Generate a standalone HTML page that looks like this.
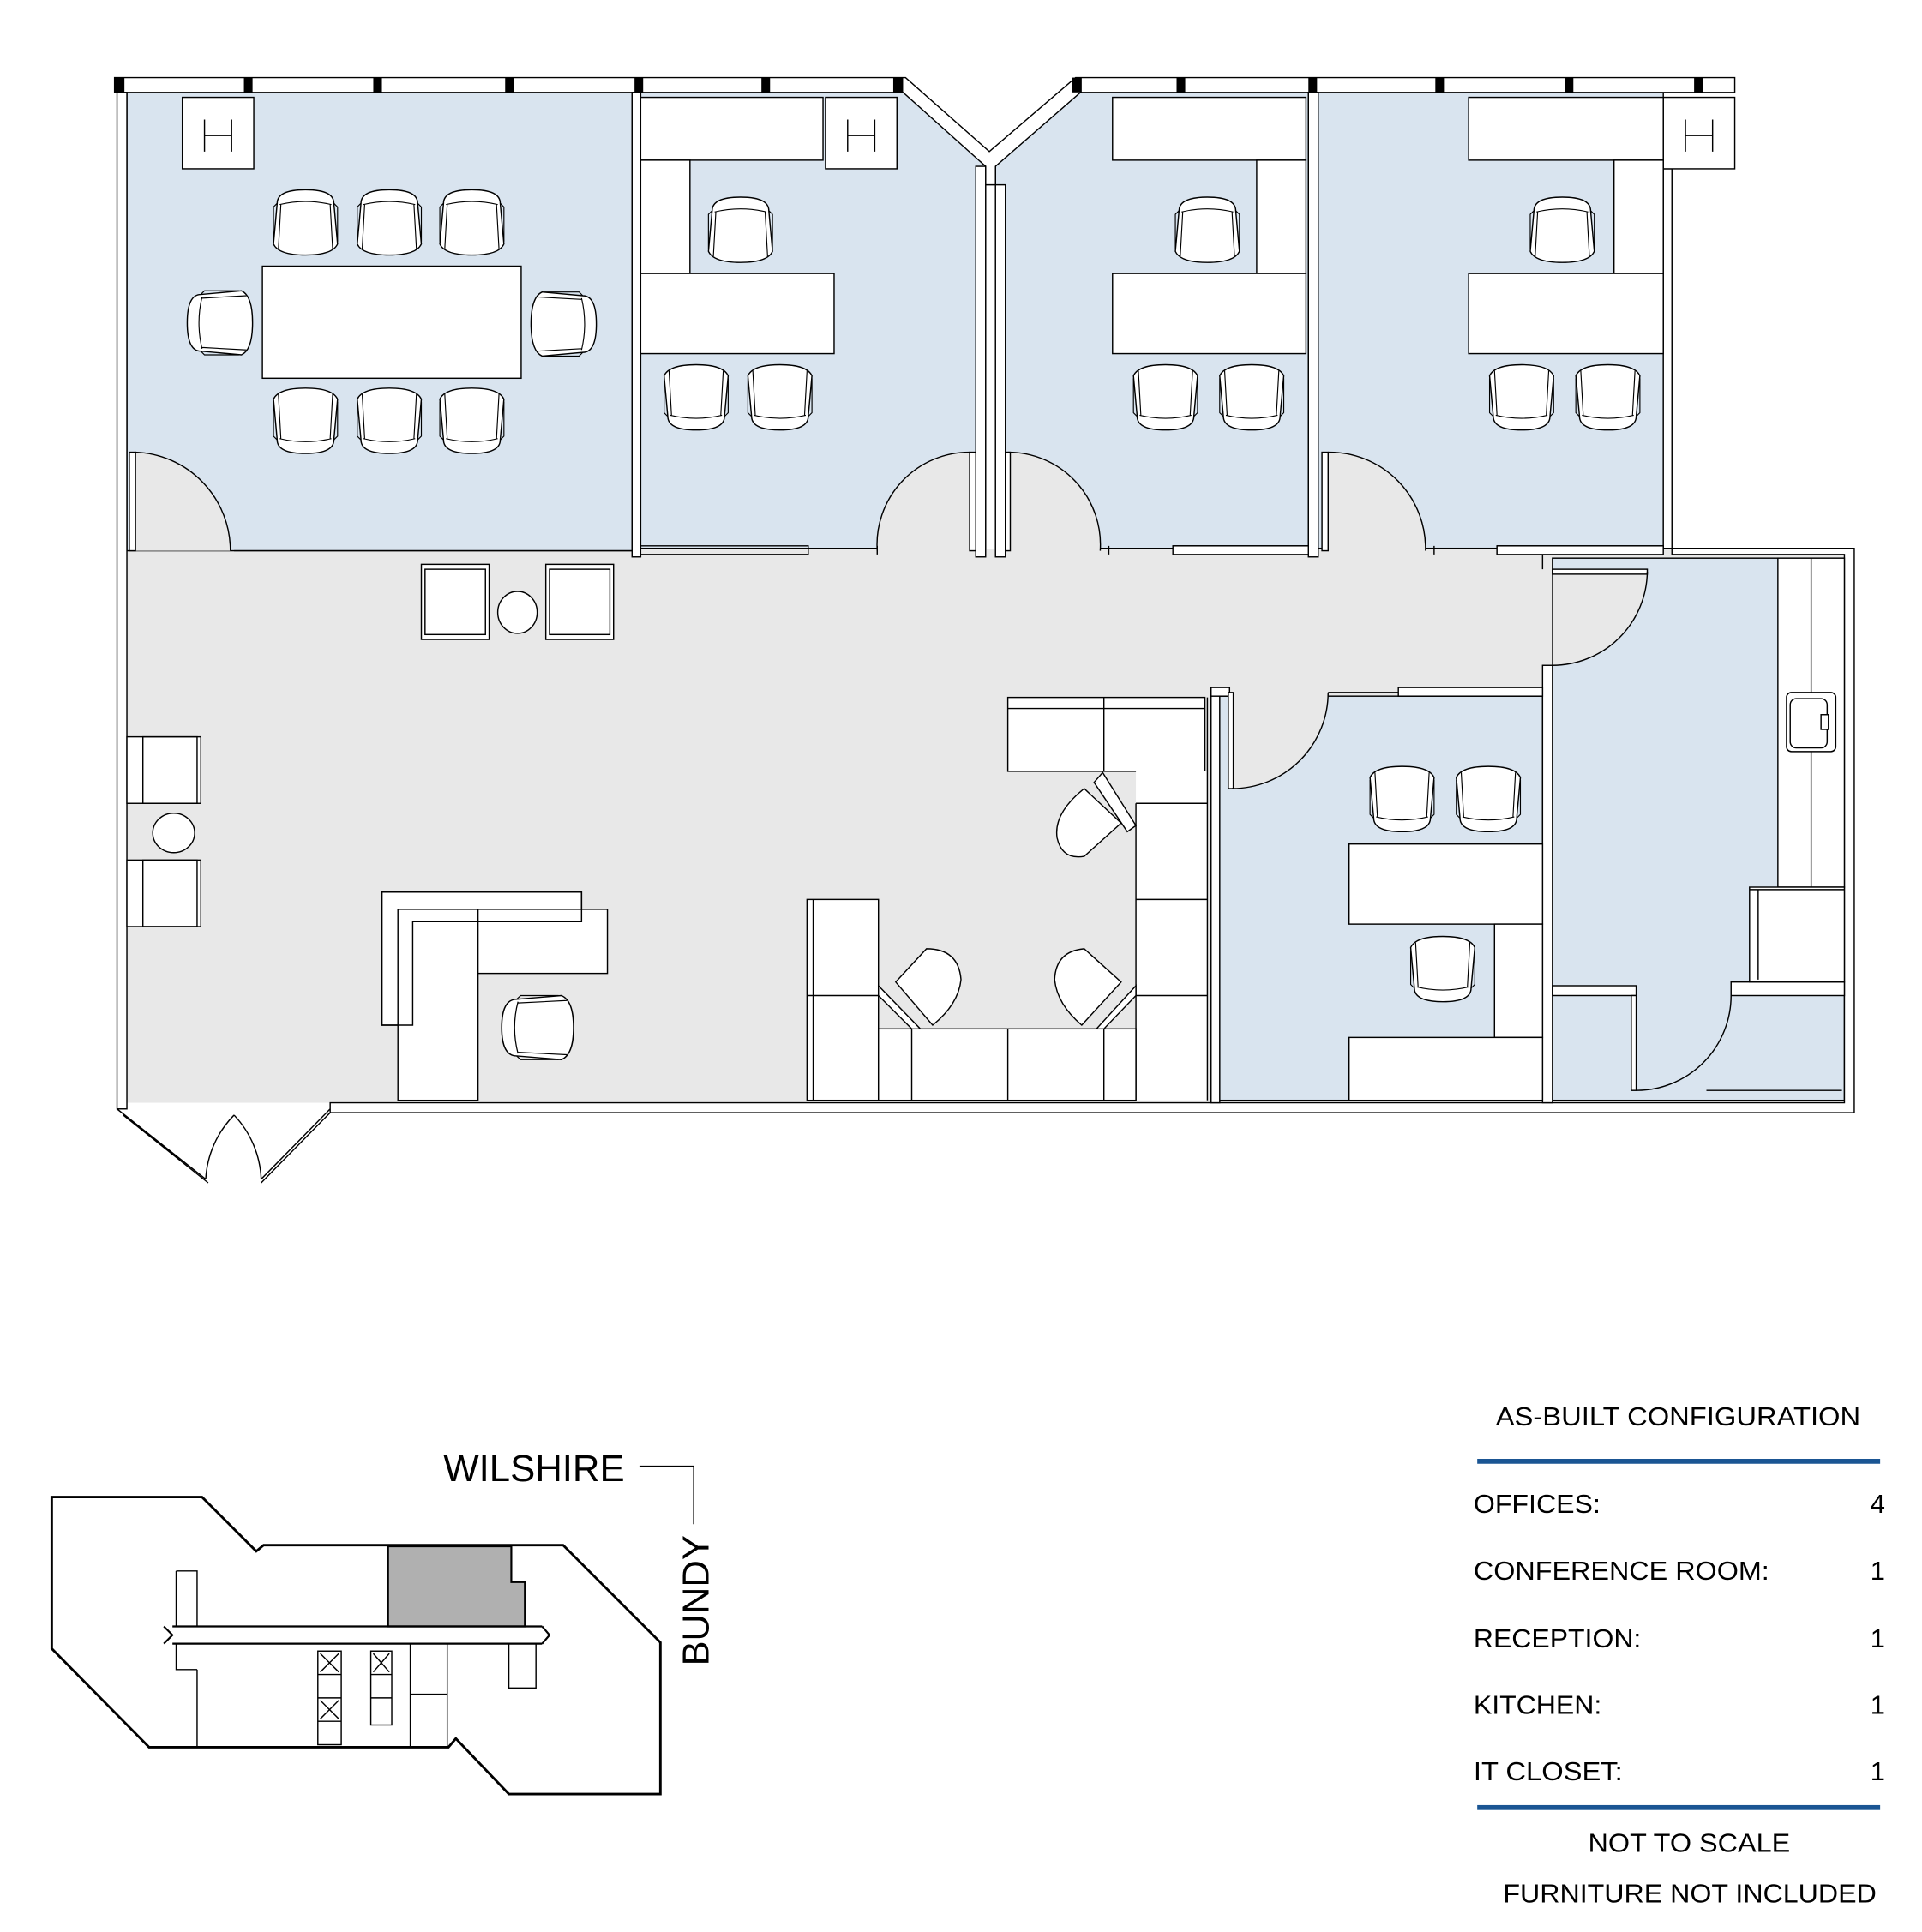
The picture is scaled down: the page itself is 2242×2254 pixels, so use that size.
<!DOCTYPE html>
<html><head><meta charset="utf-8"><style>
html,body{margin:0;padding:0;background:#fff}
svg{display:block}
text{font-family:"Liberation Sans",Arial,sans-serif;fill:#000}
</style></head><body>
<svg width="2242" height="2254" viewBox="0 0 1560 1568" preserveAspectRatio="none" xmlns="http://www.w3.org/2000/svg">
<defs>
<g id="ch">
<path d="M5,13 Q5,2 28,2 Q51,2 51,13 L54,46 Q50,55 28,55 Q6,55 2,46 Z" fill="#fff" stroke="#000" stroke-width="1"/>
<path d="M7,14 Q28,9 49,14 M8,14 L6,50 M48,14 L50,50 M5,13 L2,16 L2,44 M51,13 L54,16 L54,44" fill="none" stroke="#000" stroke-width="0.8"/>
</g>
<g id="hh"><rect x="0" y="0" width="58" height="58" fill="#fff" stroke="#000"/><path d="M18,18 V44 M40,18 V44 M18,31 H40" stroke="#000" fill="none"/></g>
</defs>
<g stroke="#000" stroke-width="1">
<rect x="103" y="446" width="1394" height="449" fill="#e8e8e8" stroke="none"/>
<rect x="103" y="75" width="410" height="372" fill="#d9e4ef"/>
<path d="M520,75 H735 L800,130 V445 H520 Z" fill="#d9e4ef"/>
<path d="M808,130 L873,75 H1062 V445 H808 Z" fill="#d9e4ef"/>
<rect x="1070" y="75" width="280" height="370" fill="#d9e4ef"/>
<rect x="990" y="565" width="262" height="328" fill="#d9e4ef"/>
<rect x="1260" y="453" width="237" height="440" fill="#d9e4ef"/>
<path d="M110,367 A80,80 0 0 1 187,447 L110,447 Z" fill="#e8e8e8" stroke="none"/>
<path d="M787,367 A75,75 0 0 0 712,447 L787,447 Z" fill="#e8e8e8" stroke="none"/>
<path d="M818,367 A75,75 0 0 1 893,447 L818,447 Z" fill="#e8e8e8" stroke="none"/>
<path d="M1078,367 A78,78 0 0 1 1157,447 L1078,447 Z" fill="#e8e8e8" stroke="none"/>
<path d="M1260,462 H1337 A77,77 0 0 1 1260,540 Z" fill="#e8e8e8" stroke="none"/>
<path d="M1078,562 A78,78 0 0 1 1000,640 L1000,562 Z" fill="#e8e8e8" stroke="none"/>
<path d="M93,63 H735 L803,123 L873,63 H1408 V75 H877 L808,135 V150 H800 V135 L733,75 H93 Z" fill="#fff"/>
<g fill="#000" stroke="none">
<rect x="93" y="63" width="8" height="12"/><rect x="198" y="63" width="7" height="12"/><rect x="303" y="63" width="7" height="12"/><rect x="410" y="63" width="7" height="12"/><rect x="515" y="63" width="7" height="12"/><rect x="618" y="63" width="7" height="12"/><rect x="725" y="63" width="8" height="12"/>
<rect x="870" y="63" width="8" height="12"/><rect x="955" y="63" width="7" height="12"/><rect x="1062" y="63" width="7" height="12"/><rect x="1165" y="63" width="7" height="12"/><rect x="1270" y="63" width="7" height="12"/><rect x="1375" y="63" width="7" height="12"/>
</g>
<rect x="95" y="75" width="8" height="825" fill="#fff"/>
<path d="M268,895 H1497 V450 H1357 V137 H1350 V445 H1505 V903 H268 Z" fill="#fff"/>
<rect x="513" y="75" width="7" height="377" fill="#fff"/>
<rect x="792" y="135" width="8" height="317" fill="#fff"/>
<rect x="808" y="150" width="8" height="302" fill="#fff"/>
<rect x="1062" y="75" width="8" height="377" fill="#fff"/>
<path d="M190,447 H513 M520,443 H656 V450 H520 M712,443 V450 M900,443 V450 M952,443 H1062 M1012,443 V450 M1070,443 V452 M1164,443 V450 M1215,443 H1350 M1215,443 V450 H1252 V462" fill="none"/>
<rect x="952" y="443" width="110" height="7" fill="#fff"/>
<rect x="1215" y="443" width="135" height="7" fill="#fff"/>
<rect x="1252" y="540" width="8" height="355" fill="#fff"/>
<rect x="983" y="558" width="7" height="337" fill="#fff"/>
<rect x="983" y="558" width="15" height="7" fill="#fff"/>
<rect x="1135" y="558" width="117" height="7" fill="#fff"/>
<path d="M1078,562 H1135" fill="none"/>
<rect x="1260" y="800" width="68" height="8" fill="#fff"/>
<rect x="1405" y="797" width="92" height="11" fill="#fff"/>
<g fill="none">
<rect x="105" y="367" width="5" height="80" fill="#fff"/><path d="M110,367 A80,80 0 0 1 187,447"/>
<rect x="787" y="367" width="5" height="80" fill="#fff"/><path d="M787,367 A75,75 0 0 0 712,447"/>
<rect x="816" y="367" width="4" height="80" fill="#fff"/><path d="M818,367 A75,75 0 0 1 893,447"/>
<rect x="1073" y="367" width="5" height="80" fill="#fff"/><path d="M1078,367 A78,78 0 0 1 1157,447"/>
<rect x="1260" y="462" width="77" height="4" fill="#fff"/><path d="M1337,464 A77,77 0 0 1 1260,540"/>
<rect x="997" y="562" width="4" height="78" fill="#fff"/><path d="M1078,562 A78,78 0 0 1 1000,640"/>
<rect x="1324" y="808" width="4" height="77" fill="#fff"/><path d="M1405,808 A77,77 0 0 1 1328,885"/>
<path d="M1385,885 H1495"/>
<path d="M95,900 L167,957 M268,900 L212,957 M100,905 L169,960 M190,905 A80,80 0 0 0 167,957 M190,905 A80,80 0 0 1 212,957 M268,903 L212,960"/>
</g>
<use href="#hh" x="148" y="79"/><use href="#hh" x="670" y="79"/><use href="#hh" x="1350" y="79"/>
<rect x="213" y="216" width="210" height="91" fill="#fff"/>
<use href="#ch" x="220" y="152"/><use href="#ch" x="288" y="152"/><use href="#ch" x="355" y="152"/>
<use href="#ch" transform="translate(276,370) rotate(180)"/><use href="#ch" transform="translate(344,370) rotate(180)"/><use href="#ch" transform="translate(411,370) rotate(180)"/>
<use href="#ch" transform="translate(150,290) rotate(-90)"/><use href="#ch" transform="translate(486,235) rotate(90)"/>
<rect x="520" y="79" width="148" height="51" fill="#fff"/><rect x="520" y="130" width="40" height="92" fill="#fff"/><rect x="520" y="222" width="157" height="65" fill="#fff"/>
<use href="#ch" x="573" y="158"/>
<use href="#ch" transform="translate(593,351) rotate(180)"/><use href="#ch" transform="translate(661,351) rotate(180)"/>
<rect x="903" y="79" width="157" height="51" fill="#fff"/><rect x="1020" y="130" width="40" height="92" fill="#fff"/><rect x="903" y="222" width="157" height="65" fill="#fff"/>
<use href="#ch" x="952" y="158"/>
<use href="#ch" transform="translate(974,351) rotate(180)"/><use href="#ch" transform="translate(1044,351) rotate(180)"/>
<rect x="1192" y="79" width="158" height="51" fill="#fff"/><rect x="1310" y="130" width="40" height="92" fill="#fff"/><rect x="1192" y="222" width="158" height="65" fill="#fff"/>
<use href="#ch" x="1240" y="158"/>
<use href="#ch" transform="translate(1263,351) rotate(180)"/><use href="#ch" transform="translate(1333,351) rotate(180)"/>
<rect x="342" y="458" width="55" height="61" fill="#fff"/><rect x="345" y="462" width="49" height="53" fill="#fff"/>
<rect x="443" y="458" width="55" height="61" fill="#fff"/><rect x="446" y="462" width="49" height="53" fill="#fff"/>
<ellipse cx="420" cy="497" rx="16" ry="17" fill="#fff"/>
<rect x="103" y="598" width="60" height="54" fill="#fff"/><rect x="116" y="598" width="44" height="54" fill="none"/>
<rect x="103" y="698" width="60" height="54" fill="#fff"/><rect x="116" y="698" width="44" height="54" fill="none"/>
<ellipse cx="141" cy="676" rx="17" ry="16" fill="#fff"/>
<path d="M310,724 H472 V748 H335 V832 H310 Z" fill="#fff"/>
<rect x="323" y="738" width="65" height="155" fill="#fff"/>
<rect x="388" y="738" width="105" height="52" fill="#fff"/>
<path d="M310,724 H472 V748 H335 V832 H310 Z" fill="none"/>
<use href="#ch" transform="translate(405,862) rotate(-90) scale(1,1.1)"/>
<rect x="818" y="566" width="160" height="60" fill="#fff"/><path d="M896,566 V626 M818,575 H978"/>
<rect x="922" y="626" width="58" height="267" fill="#fff" stroke="none"/>
<path d="M922,652 V893 M980,566 V893 M922,652 H980 M922,730 H980 M922,808 H980" fill="none"/>
<rect x="655" y="730" width="58" height="163" fill="#fff"/><path d="M660,730 V893 M655,808 H713"/>
<rect x="713" y="835" width="209" height="58" fill="#fff"/><path d="M740,835 V893 M818,835 V893 M896,835 V893"/>
<path d="M888,635 L895,627 L922,670 L915,675 Z" fill="#fff"/>
<path d="M713,800 L747,835 L740,835 L713,808 Z" fill="#fff"/>
<path d="M922,800 L890,835 L896,835 L922,808 Z" fill="#fff"/>
<path d="M880,640 Q855,660 858,680 Q862,698 880,695 L910,668 Z" fill="#fff"/>
<path d="M752,770 Q778,770 780,795 Q778,815 757,832 L727,797 Z" fill="#fff"/>
<path d="M880,770 Q857,772 856,795 Q858,815 878,832 L910,797 Z" fill="#fff"/>
<rect x="1095" y="685" width="157" height="65" fill="#fff"/>
<rect x="1213" y="750" width="39" height="92" fill="#fff"/>
<rect x="1095" y="842" width="157" height="51" fill="#fff"/>
<use href="#ch" transform="translate(1166,677) rotate(180)"/><use href="#ch" transform="translate(1236,677) rotate(180)"/>
<use href="#ch" transform="translate(1199,815) rotate(180)"/>
<rect x="1443" y="453" width="54" height="267" fill="#fff"/><path d="M1470,453 V720"/>
<rect x="1450" y="562" width="40" height="48" rx="4" fill="#fff"/><rect x="1453" y="567" width="30" height="40" rx="5" fill="#fff"/>
<rect x="1478" y="580" width="6" height="12" fill="#fff"/>
<rect x="1420" y="720" width="77" height="77" fill="#fff"/><path d="M1427,722 V795 M1420,722 H1497"/>
</g>
<g stroke="#000" fill="none">
<path d="M42,1215 H164 L208,1259 L214,1254 H457 L536,1333 V1456 H413 L370,1411 L364,1418 H121 L42,1338 Z" stroke-width="2" fill="#fff"/>
<path d="M315,1255 H415 V1284 H426 V1320 H315 Z" fill="#b0b0b0" stroke-width="1.5"/>
<path d="M140,1320 H440 M140,1334 H440 M133,1320 L140,1327 L133,1334 M440,1320 L446,1327 L440,1334" stroke-width="1.5"/>
<path d="M143,1275 H160 V1320 M143,1334 V1355 H160 M160,1355 V1418 M143,1275 V1320" />
<path d="M413,1334 V1370 H435 V1334" />
<rect x="258" y="1340" width="19" height="76"/><rect x="301" y="1340" width="17" height="60"/>
<path d="M258,1359 H277 M258,1378 H277 M258,1397 H277 M301,1359 H318 M301,1378 H318 M260,1342 L275,1357 M275,1342 L260,1357 M260,1380 L275,1395 M275,1380 L260,1395 M303,1342 L316,1357 M316,1342 L303,1357"/>
<path d="M363,1334 V1418 M333,1334 V1418 M333,1375 H363"/>
<path d="M519,1190 H563 V1237"/>
</g>
<text x="360" y="1202" font-size="30" textLength="147" lengthAdjust="spacingAndGlyphs">WILSHIRE</text>
<text transform="translate(575,1352) rotate(-90)" font-size="30" textLength="106" lengthAdjust="spacingAndGlyphs">BUNDY</text>
<text x="1214" y="1157" font-size="21.5" textLength="296" lengthAdjust="spacingAndGlyphs">AS-BUILT CONFIGURATION</text>
<rect x="1199" y="1184" width="327" height="4" fill="#1a5593"/>
<g font-size="21.5">
<text x="1196" y="1228" textLength="103" lengthAdjust="spacingAndGlyphs">OFFICES:</text><text x="1530" y="1228" text-anchor="end">4</text>
<text x="1196" y="1282" textLength="240" lengthAdjust="spacingAndGlyphs">CONFERENCE ROOM:</text><text x="1530" y="1282" text-anchor="end">1</text>
<text x="1196" y="1337" textLength="136" lengthAdjust="spacingAndGlyphs">RECEPTION:</text><text x="1530" y="1337" text-anchor="end">1</text>
<text x="1196" y="1391" textLength="104" lengthAdjust="spacingAndGlyphs">KITCHEN:</text><text x="1530" y="1391" text-anchor="end">1</text>
<text x="1196" y="1445" textLength="121" lengthAdjust="spacingAndGlyphs">IT CLOSET:</text><text x="1530" y="1445" text-anchor="end">1</text>
</g>
<rect x="1199" y="1465" width="327" height="4" fill="#1a5593"/>
<text x="1289" y="1503" font-size="21.5" textLength="164" lengthAdjust="spacingAndGlyphs">NOT TO SCALE</text>
<text x="1220" y="1544" font-size="21.5" textLength="303" lengthAdjust="spacingAndGlyphs">FURNITURE NOT INCLUDED</text>
</svg>
</body></html>
